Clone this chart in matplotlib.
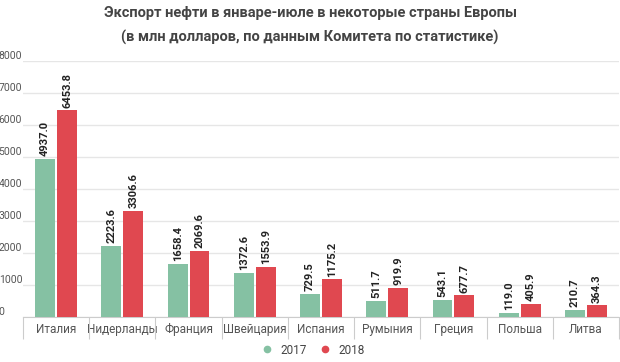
import matplotlib.pyplot as plt
import numpy as np
from matplotlib.lines import Line2D

plt.rcParams['font.family'] = ['Roboto', 'DejaVu Sans']

countries = ['Италия', 'Нидерланды', 'Франция', 'Швейцария', 'Испания',
             'Румыния', 'Греция', 'Польша', 'Литва']
exp_2017 = [4937.0, 2223.6, 1658.4, 1372.6, 729.5, 511.7, 543.1, 119.0, 210.7]
exp_2018 = [6453.8, 3306.6, 2069.6, 1553.9, 1175.2, 919.9, 677.7, 405.9, 364.3]
yticks = [0, 1000, 2000, 3000, 4000, 5000, 6000, 7000, 8000]

green = '#85c1a3'
red = '#e04850'
W, H = 620, 362

fig = plt.figure(figsize=(W / 100, H / 100), dpi=100)
ax = fig.add_axes([23 / W, (H - 317) / H, 596 / W, 256 / H])

x = np.arange(len(countries))
bw = 0.3
b1 = ax.bar(x - bw / 2 - 0.015, exp_2017, bw, color=green, zorder=3)
b2 = ax.bar(x + bw / 2 + 0.015, exp_2018, bw, color=red, zorder=3)

for bars in (b1, b2):
    ax.bar_label(bars, labels=[f'{v:.1f}' for v in bars.datavalues],
                 rotation=90, padding=2, fontsize=8, fontweight='bold',
                 color='#222222')

ax.set_xlim(-0.5, len(countries) - 0.5)
ax.set_ylim(0, 8000)
ax.set_yticks(yticks)
ax.set_yticklabels([str(v) for v in yticks])
# labels sit left-aligned at the figure edge, just above each gridline
ax.tick_params(axis='y', length=0, pad=17.5, labelsize=7.5, labelcolor='#555555')
for lab in ax.get_yticklabels():
    lab.set_ha('left')
    lab.set_va('bottom')

ax.set_xticks(x)
ax.set_xticklabels(countries)
ax.tick_params(axis='x', length=0, pad=4, labelsize=8.5, labelcolor='#555555')
ax.set_xticks(np.arange(len(countries) + 1) - 0.5, minor=True)
ax.tick_params(axis='x', which='minor', length=16, width=0.8, color='#cccccc')

ax.grid(axis='y', color='#e6e6e6', linewidth=1, zorder=0)
ax.set_axisbelow(True)
for s in ['top', 'right', 'left']:
    ax.spines[s].set_visible(False)
ax.spines['bottom'].set_color('#cccccc')

fig.text(0.5, 1 - 13 / H, 'Экспорт нефти в январе-июле в некоторые страны Европы',
         ha='center', va='center', fontsize=10.5, fontweight='bold', color='#444444')
fig.text(0.5, 1 - 37 / H, '(в млн долларов, по данным Комитета по статистике)',
         ha='center', va='center', fontsize=10.5, fontweight='bold', color='#444444')

handles = [Line2D([], [], marker='o', linestyle='', color=green, markersize=4.5, label='2017'),
           Line2D([], [], marker='o', linestyle='', color=red, markersize=4.5, label='2018')]
fig.legend(handles=handles, loc='center', bbox_to_anchor=(310 / W, 1 - 350 / H), ncol=2,
           frameon=False, fontsize=8.5, handletextpad=0.1, columnspacing=0.6,
           labelcolor='#444444')

fig.savefig('out.png', dpi=100)
